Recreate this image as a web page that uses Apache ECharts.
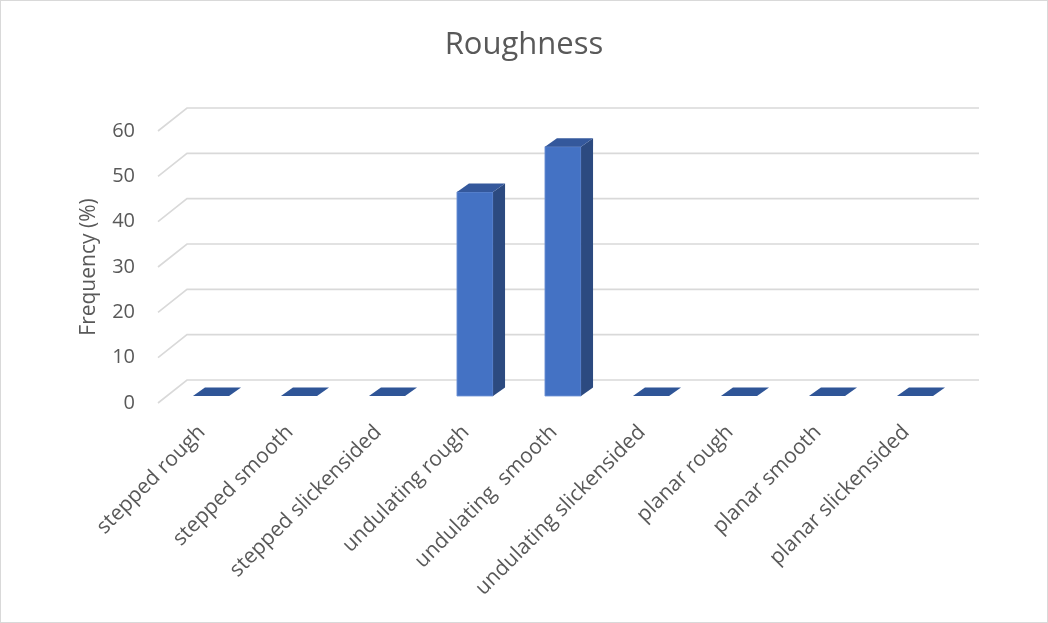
<!DOCTYPE html>
<html>
<head>
<meta charset="utf-8">
<script src="https://cdn.jsdelivr.net/npm/echarts@6/dist/echarts.min.js"></script>
<style>
  html, body { margin: 0; padding: 0; background: #fff; }
  #main { width: 1046px; height: 621px; border: 1px solid #d9d9d9; }
</style>
</head>
<body>
<div id="main"></div>
<script>
// data
const categories = ['stepped rough', 'stepped smooth', 'stepped slickensided',
  'undulating rough', 'undulating  smooth', 'undulating slickensided',
  'planar rough', 'planar smooth', 'planar slickensided'];
const frequency = [0, 0, 0, 45, 55, 0, 0, 0, 0];
const yTicks = [0, 10, 20, 30, 40, 50, 60];

// fake 3d depth (pixels)
const WALL_DX = 29, WALL_DY = -23;
const BAR_OFF_DX = 9, BAR_OFF_DY = -7;
const BAR_DX = 12, BAR_DY = -8.5;

let chart = echarts.init(document.getElementById('main'));

function renderWall(params, api) {
    let v = api.value(1);
    let band = api.size([1, 0])[0];
    let left = api.coord([0, v]);
    let right = api.coord([categories.length - 1, v]);
    let x0 = left[0] - band / 2, y = left[1];
    let x1 = right[0] + band / 2;
    return {
        type: 'polyline',
        shape: { points: [[x0, y], [x0 + WALL_DX, y + WALL_DY], [x1 + WALL_DX, y + WALL_DY]] },
        style: { stroke: '#d9d9d9', lineWidth: 1.6, fill: null }
    };
}

function renderBar(params, api) {
    let i = api.value(0);
    let top = api.coord([i, api.value(1)]);
    let bot = api.coord([i, 0]);
    let hw = api.size([1, 0])[0] * 0.205;
    let xl = top[0] - hw + BAR_OFF_DX, xr = top[0] + hw + BAR_OFF_DX;
    let yt = top[1] + BAR_OFF_DY, yb = bot[1] + BAR_OFF_DY;
    let children = [];
    if (yb - yt > 0.5) {
        children.push({
            type: 'rect',
            shape: { x: xl, y: yt, width: xr - xl, height: yb - yt },
            style: { fill: '#4472C4', stroke: '#6f93d6', lineWidth: 0.8 }
        });
        children.push({
            type: 'polygon',
            shape: { points: [[xr, yt], [xr + BAR_DX, yt + BAR_DY], [xr + BAR_DX, yb + BAR_DY], [xr, yb]] },
            style: { fill: '#2C4A80' }
        });
    }
    children.push({
        type: 'polygon',
        shape: { points: [[xl, yt], [xl + BAR_DX, yt + BAR_DY], [xr + BAR_DX, yt + BAR_DY], [xr, yt]] },
        style: { fill: yb - yt > 0.5 ? '#34589C' : '#2F5597' }
    });
    return { type: 'group', children: children };
}

let option = {
    title: {
        text: 'Roughness',
        left: 'center',
        top: 24,
        textStyle: { fontFamily: 'Open Sans', fontSize: 31, fontWeight: 'normal', color: '#595959' }
    },
    grid: { left: 157, right: 97, top: 130, bottom: 219 },
    xAxis: {
        type: 'category',
        data: categories,
        axisLine: { show: false },
        axisTick: { show: false },
        axisLabel: {
            interval: 0,
            rotate: 45,
            margin: 26,
            fontFamily: 'Open Sans',
            fontSize: 21,
            color: '#595959'
        }
    },
    yAxis: {
        type: 'value',
        min: 0,
        max: 60,
        interval: 10,
        name: 'Frequency (%)',
        nameLocation: 'middle',
        nameGap: 58,
        nameTextStyle: { fontFamily: 'Open Sans', fontSize: 21, color: '#595959' },
        axisLine: { show: false },
        axisTick: { show: false },
        splitLine: { show: false },
        axisLabel: { margin: 23, fontFamily: 'Open Sans', fontSize: 20, color: '#595959' }
    },
    series: [
        {
            type: 'custom',
            name: 'walls',
            silent: true,
            z: 1,
            renderItem: renderWall,
            encode: { x: 0, y: 1 },
            data: yTicks.map(v => [0, v])
        },
        {
            type: 'custom',
            name: 'Frequency',
            z: 2,
            renderItem: renderBar,
            encode: { x: 0, y: 1 },
            data: frequency.map((v, i) => [i, v])
        }
    ]
};
chart.setOption(option);
</script>
</body>
</html>
